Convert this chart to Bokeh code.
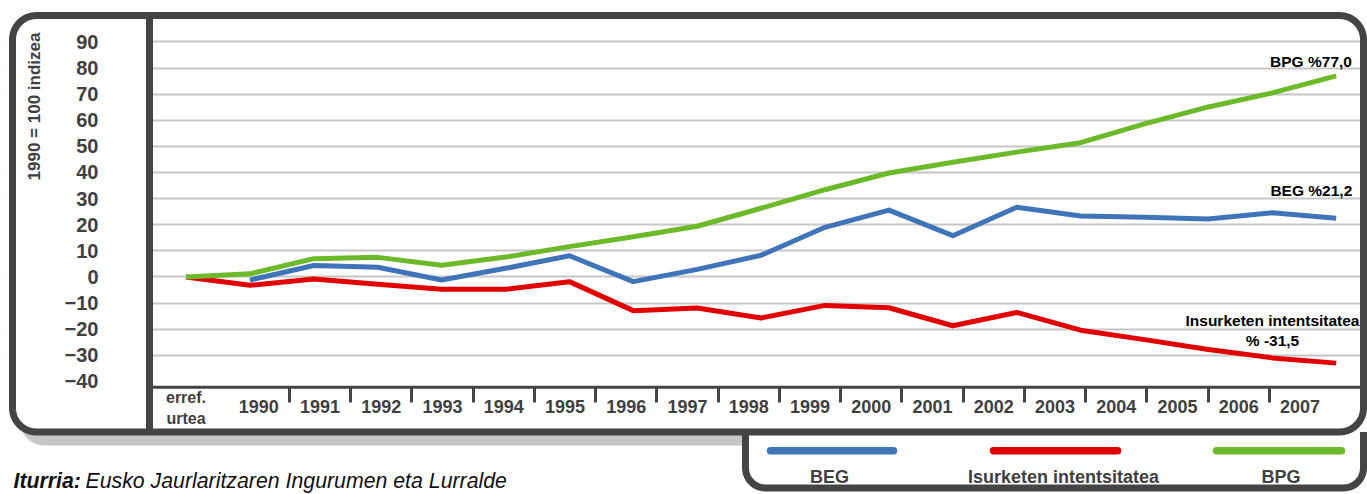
import numpy as np
from bokeh.plotting import figure
from bokeh.models import Range1d, LinearAxis, FixedTicker, Grid
from bokeh.core.properties import value
from bokeh.embed import file_html
from bokeh.resources import INLINE

# ---------------- data ----------------
categories = ["erref.\nurtea", "1990", "1991", "1992", "1993", "1994", "1995", "1996",
              "1997", "1998", "1999", "2000", "2001", "2002", "2003", "2004", "2005",
              "2006", "2007"]
beg = [np.nan, -1.2, 4.4, 3.7, -1.2, 3.3, 8.1, -1.8, 2.9, 8.3, 19.0, 25.6, 15.8, 26.7,
       23.3, 22.9, 22.2, 24.6, 22.5]
isurketen = [0.0, -3.2, -0.8, -2.8, -4.7, -4.7, -1.8, -12.9, -11.9, -15.7, -10.9, -11.8,
             -18.7, -13.6, -20.4, -24.0, -27.8, -31.0, -33.0]
bpg = [0.0, 1.2, 7.0, 7.5, 4.5, 7.6, 11.6, 15.4, 19.4, 26.3, 33.4, 39.8, 43.9, 47.8,
       51.4, 58.6, 65.1, 70.5, 77.0]
series_names = ["BEG", "Isurketen intentsitatea", "BPG"]
series_colors = ["#3f74b8", "#e10000", "#6cb92a"]
y_tick_values = list(range(-40, 100, 10))
end_labels = ["BPG %77,0", "BEG  %21,2", "Insurketen intentsitatea\n% -31,5"]
y_title = "1990 = 100 indizea"
source_bold = "Iturria:"
source_text = "Eusko Jaurlaritzaren Ingurumen eta Lurralde"
source_text2 = "Antolamendu Saila, Estatistikak"

# ---------------- layout (page pixel geometry) ----------------
W, H = 1367, 494
OFF = 0
XS, X0 = 63.9, 185.5          # data index -> page x
YS, YREF = 2.6114, 198.1      # value -> page y  (value 30 at YREF)
CS, C0 = 61.25, 196.9         # category label slot -> page x
FONT = "Liberation Sans"
DARK = "#444444"
TXT = "#404040"


def px_to_i(px):
    return (px - X0) / XS


def py_to_v(py):
    return 30 - (py - YREF) / YS


p = figure(width=W, height=H,
           x_range=Range1d(px_to_i(OFF), px_to_i(OFF + W)),
           y_range=Range1d(py_to_v(OFF + H), py_to_v(OFF)),
           x_axis_location=None, y_axis_location=None,
           toolbar_location=None, tools="", output_backend="svg",
           min_border=0, outline_line_color=None,
           background_fill_color="white", border_fill_color="white")
p.center = []
p.extra_x_ranges = {"px": Range1d(OFF, OFF + W),
                    "cat": Range1d((OFF - C0) / CS, (OFF + W - C0) / CS)}
p.extra_y_ranges = {"px": Range1d(OFF + H, OFF)}
PX = dict(x_range_name="px", y_range_name="px")

# horizontal grid
grid = Grid(dimension=1, ticker=FixedTicker(ticks=[v for v in y_tick_values if v > -40]),
            grid_line_color="#c6c6c6", grid_line_width=2)
p.add_layout(grid, "center")


def rounded_path(x0, y0, x1, y1, r, n=16):
    xs, ys = [], []
    for cx, cy, a0 in [(x1 - r, y0 + r, -90), (x1 - r, y1 - r, 0),
                       (x0 + r, y1 - r, 90), (x0 + r, y0 + r, 180)]:
        a = np.radians(np.linspace(a0, a0 + 90, n))
        xs.extend(cx + r * np.cos(a))
        ys.extend(cy + r * np.sin(a))
    return xs, ys


RIGHT = 1363
BOTTOM = 431.5

# shadow under the frame
sr = 24
scx, scy = 20 + sr, 445 - sr
a = np.radians(np.linspace(180 - np.degrees(np.arcsin(10 / sr)), 90, 14))
shx = list(scx + sr * np.cos(a)) + [745, 745]
shy = list(scy + sr * np.sin(a)) + [445, 431]
p.patch(shx, shy, fill_color="#c6c6c6", line_color=None, **PX)

# white cover of the left panel (hides grid there)
p.quad(left=[0], right=[145.5], top=[18.5], bottom=[428], fill_color="white",
       line_color=None, **PX)

# data lines
xi = list(range(len(categories)))
for vals, col in [(isurketen, series_colors[1]), (beg, series_colors[0]), (bpg, series_colors[2])]:
    p.line(x=xi, y=vals, line_color=col, line_width=5, line_join="round")

# frame
fx, fy = rounded_path(12, 15, RIGHT, BOTTOM, 24)
p.patch(fx, fy, fill_color=None, line_color=DARK, line_width=7, **PX)
# separator and x axis line
p.segment(x0=[149, 149], y0=[15, 386.7], x1=[149, RIGHT], y1=[BOTTOM, 386.7],
          line_color=DARK, line_width=[7, 3], **PX)

# legend box (hanging below the frame)
lx0, lx1, ly0, ly1, lr = 745, RIGHT, BOTTOM, 487.5, 20
a1 = np.radians(np.linspace(180, 90, 12))
a2 = np.radians(np.linspace(90, 0, 12))
lbx = [lx0] + list(lx0 + lr + lr * np.cos(a1)) + list(lx1 - lr + lr * np.cos(a2)) + [lx1]
lby = [ly0] + list(ly1 - lr + lr * np.sin(a1)) + list(ly1 - lr + lr * np.sin(a2)) + [ly0]
p.line(lbx, lby, line_color=DARK, line_width=7, line_join="round", **PX)

# legend entries
p.segment(x0=[770, 993, 1216], y0=[450.3] * 3, x1=[893, 1117, 1341], y1=[450.3] * 3,
          line_color=series_colors, line_width=7.5, line_cap="round", **PX)
p.text(x=[829, 1063, 1280.5], y=[476] * 3, text=series_names,
       text_font=value(FONT), text_font_style="bold", text_font_size="18px",
       text_color=TXT, text_align="center", text_baseline="middle", **PX)

# end-of-line annotations
p.text(x=[1310.5, 1313, 1272], y=[60.8, 189.5, 330], text=end_labels,
       text_font=value(FONT), text_font_style="bold", text_font_size="15.5px",
       text_color="black", text_align="center", text_baseline="middle",
       text_line_height=1.18, **PX)

# y title
p.text(x=[33.5], y=[106], text=[y_title], angle=np.pi / 2,
       text_font=value(FONT), text_font_style="bold", text_font_size="17px",
       text_color=TXT, text_align="center", text_baseline="middle", **PX)

# source note
p.text(x=[13], y=[480.7], text=[source_bold], text_font=value(FONT),
       text_font_style="bold italic", text_font_size="21.3px", text_color="#111111",
       text_align="left", text_baseline="alphabetic", **PX)
p.text(x=[85], y=[480.7], text=[source_text], text_font=value(FONT),
       text_font_style="italic", text_font_size="21.3px", text_color="#111111",
       text_align="left", text_baseline="alphabetic", **PX)
p.text(x=[20], y=[503], text=[source_text2], text_font=value(FONT),
       text_font_style="italic", text_font_size="21.3px", text_color="#111111",
       text_align="left", text_baseline="alphabetic", **PX)

# ---------------- axes ----------------
yaxis = LinearAxis(ticker=FixedTicker(ticks=y_tick_values), fixed_location=px_to_i(149))
yaxis.axis_line_color = None
yaxis.major_tick_line_color = None
yaxis.minor_tick_line_color = None
yaxis.major_tick_out = 0
yaxis.major_tick_in = 0
yaxis.major_label_standoff = 51
yaxis.major_label_text_font = FONT
yaxis.major_label_text_font_style = "bold"
yaxis.major_label_text_font_size = "20px"
yaxis.major_label_text_color = TXT
p.add_layout(yaxis, "left")

x_axis_v = py_to_v(386.7)

# tick marks at category boundaries
tick_axis = LinearAxis(x_range_name="cat", fixed_location=x_axis_v,
                       ticker=FixedTicker(ticks=[k + 0.5 for k in range(1, len(categories) - 1)]))
tick_axis.axis_line_color = None
tick_axis.minor_tick_line_color = None
tick_axis.major_tick_in = 0
tick_axis.major_tick_out = 15
tick_axis.major_tick_line_width = 3
tick_axis.major_tick_line_color = DARK
tick_axis.major_label_text_color = None
p.add_layout(tick_axis, "below")

# year labels
lab_axis = LinearAxis(x_range_name="cat", fixed_location=x_axis_v,
                      ticker=FixedTicker(ticks=list(range(1, len(categories)))))
lab_axis.major_label_overrides = {k: categories[k] for k in range(1, len(categories))}
lab_axis.axis_line_color = None
lab_axis.major_tick_line_color = None
lab_axis.minor_tick_line_color = None
lab_axis.major_tick_out = 0
lab_axis.major_tick_in = 0
lab_axis.major_label_standoff = 13
lab_axis.major_label_text_font = FONT
lab_axis.major_label_text_font_style = "bold"
lab_axis.major_label_text_font_size = "18px"
lab_axis.major_label_text_color = TXT
p.add_layout(lab_axis, "below")

# reference-year label
ref_axis = LinearAxis(fixed_location=x_axis_v, ticker=FixedTicker(ticks=[0]))
ref_axis.major_label_overrides = {0: categories[0]}
ref_axis.axis_line_color = None
ref_axis.major_tick_line_color = None
ref_axis.minor_tick_line_color = None
ref_axis.major_tick_out = 0
ref_axis.major_tick_in = 0
ref_axis.major_label_standoff = 2
ref_axis.major_label_text_font = FONT
ref_axis.major_label_text_font_style = "bold"
ref_axis.major_label_text_font_size = "16px"
ref_axis.major_label_text_color = TXT
p.add_layout(ref_axis, "below")

open("out.html", "w").write(file_html(p, INLINE))
